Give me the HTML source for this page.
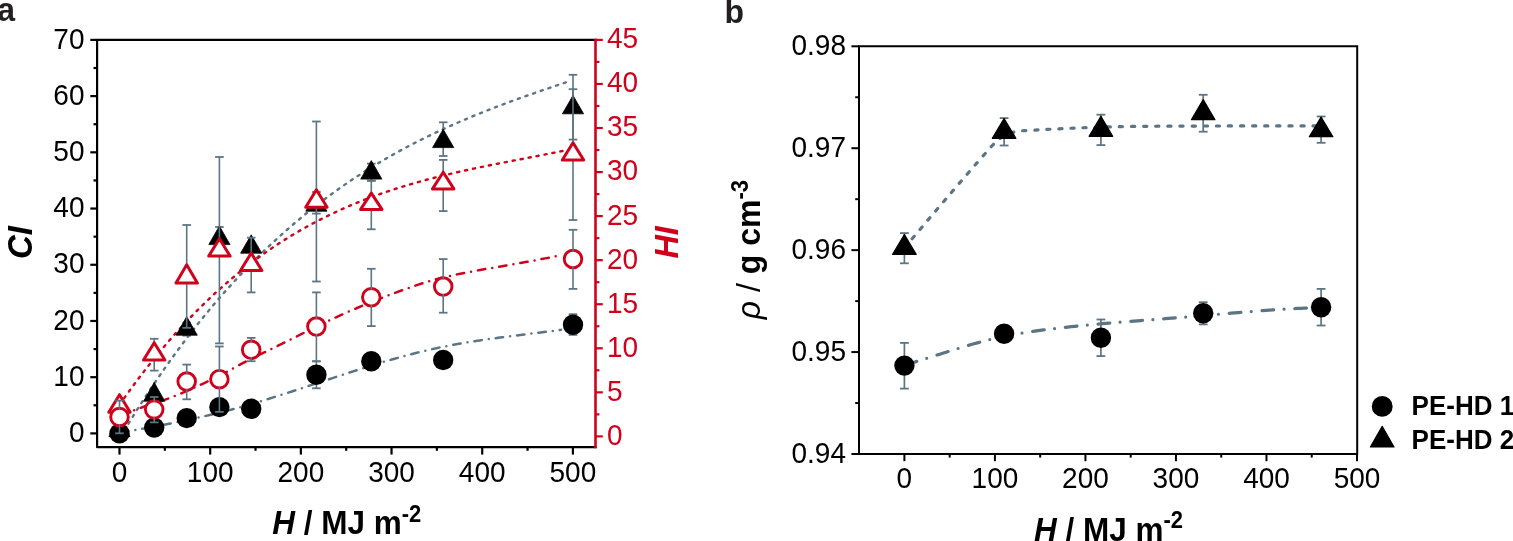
<!DOCTYPE html>
<html><head><meta charset="utf-8"><title>Figure</title>
<style>
html,body{margin:0;padding:0;background:#fff;}
body{width:1513px;height:541px;overflow:hidden;}
svg{display:block;font-family:'Liberation Sans', Arial, sans-serif;}
</style></head><body>
<svg width="1513" height="541" viewBox="0 0 1513 541">
<rect width="1513" height="541" fill="#fff"/>
<path d="M120.00,437.51 L123.77,431.24 L127.54,425.04 L131.31,418.94 L135.08,412.91 L138.84,406.97 L142.61,401.10 L146.38,395.32 L150.15,389.62 L153.92,383.99 L157.69,378.44 L161.46,372.97 L165.23,367.58 L169.00,362.26 L172.76,357.02 L176.53,351.85 L180.30,346.76 L184.07,341.73 L187.84,336.78 L191.61,331.90 L195.38,327.10 L199.15,322.36 L202.92,317.68 L206.68,313.08 L210.45,308.55 L214.22,304.08 L217.99,299.68 L221.76,295.34 L225.53,291.06 L229.30,286.85 L233.07,282.71 L236.84,278.62 L240.61,274.60 L244.37,270.63 L248.14,266.73 L251.91,262.88 L255.68,259.09 L259.45,255.37 L263.22,251.69 L266.99,248.07 L270.76,244.51 L274.53,241.01 L278.29,237.55 L282.06,234.15 L285.83,230.80 L289.60,227.50 L293.37,224.26 L297.14,221.06 L300.91,217.91 L304.68,214.81 L308.45,211.76 L312.21,208.76 L315.98,205.80 L319.75,202.89 L323.52,200.03 L327.29,197.21 L331.06,194.44 L334.83,191.70 L338.60,189.02 L342.37,186.37 L346.13,183.77 L349.90,181.21 L353.67,178.68 L357.44,176.20 L361.21,173.76 L364.98,171.36 L368.75,168.99 L372.52,166.66 L376.29,164.37 L380.05,162.12 L383.82,159.90 L387.59,157.71 L391.36,155.56 L395.13,153.45 L398.90,151.36 L402.67,149.31 L406.44,147.29 L410.21,145.30 L413.97,143.35 L417.74,141.42 L421.51,139.52 L425.28,137.65 L429.05,135.81 L432.82,133.99 L436.59,132.20 L440.36,130.44 L444.13,128.70 L447.89,126.99 L451.66,125.30 L455.43,123.64 L459.20,122.00 L462.97,120.38 L466.74,118.78 L470.51,117.21 L474.28,115.65 L478.05,114.11 L481.82,112.60 L485.58,111.10 L489.35,109.62 L493.12,108.15 L496.89,106.71 L500.66,105.28 L504.43,103.86 L508.20,102.46 L511.97,101.07 L515.74,99.70 L519.50,98.34 L523.27,96.99 L527.04,95.65 L530.81,94.33 L534.58,93.01 L538.35,91.70 L542.12,90.41 L545.89,89.12 L549.66,87.84 L553.42,86.56 L557.19,85.29 L560.96,84.03 L564.73,82.78 L568.50,81.52" fill="none" stroke="#5b7585" stroke-width="2.4" stroke-dasharray="2.2 5.9" stroke-linecap="round"/>
<path d="M119.50,404.79 L123.23,399.48 L126.95,394.25 L130.68,389.11 L134.41,384.05 L138.13,379.07 L141.86,374.17 L145.59,369.35 L149.32,364.62 L153.04,359.96 L156.77,355.38 L160.50,350.87 L164.22,346.45 L167.95,342.10 L171.68,337.82 L175.40,333.62 L179.13,329.49 L182.86,325.44 L186.58,321.45 L190.31,317.54 L194.04,313.70 L197.76,309.92 L201.49,306.22 L205.22,302.58 L208.95,299.02 L212.67,295.51 L216.40,292.08 L220.13,288.70 L223.85,285.40 L227.58,282.15 L231.31,278.97 L235.03,275.85 L238.76,272.79 L242.49,269.79 L246.21,266.85 L249.94,263.97 L253.67,261.15 L257.39,258.38 L261.12,255.67 L264.85,253.01 L268.58,250.41 L272.30,247.87 L276.03,245.37 L279.76,242.93 L283.48,240.54 L287.21,238.20 L290.94,235.91 L294.66,233.67 L298.39,231.48 L302.12,229.34 L305.84,227.24 L309.57,225.19 L313.30,223.19 L317.03,221.23 L320.75,219.31 L324.48,217.43 L328.21,215.60 L331.93,213.81 L335.66,212.06 L339.39,210.35 L343.11,208.68 L346.84,207.04 L350.57,205.45 L354.29,203.89 L358.02,202.36 L361.75,200.88 L365.47,199.42 L369.20,198.00 L372.93,196.61 L376.66,195.26 L380.38,193.93 L384.11,192.64 L387.84,191.37 L391.56,190.14 L395.29,188.93 L399.02,187.75 L402.74,186.59 L406.47,185.47 L410.20,184.36 L413.92,183.28 L417.65,182.23 L421.38,181.19 L425.11,180.18 L428.83,179.19 L432.56,178.22 L436.29,177.27 L440.01,176.34 L443.74,175.42 L447.47,174.52 L451.19,173.64 L454.92,172.78 L458.65,171.93 L462.37,171.09 L466.10,170.26 L469.83,169.45 L473.55,168.65 L477.28,167.86 L481.01,167.08 L484.74,166.31 L488.46,165.55 L492.19,164.80 L495.92,164.05 L499.64,163.31 L503.37,162.58 L507.10,161.84 L510.82,161.12 L514.55,160.39 L518.28,159.67 L522.00,158.95 L525.73,158.23 L529.46,157.51 L533.18,156.79 L536.91,156.07 L540.64,155.34 L544.37,154.61 L548.09,153.88 L551.82,153.14 L555.55,152.40 L559.27,151.65 L563.00,150.89" fill="none" stroke="#d0021b" stroke-width="2.4" stroke-dasharray="2.2 5.9" stroke-linecap="round"/>
<path d="M121.00,416.35 L124.69,414.44 L128.38,412.70 L132.07,411.10 L135.76,409.62 L139.45,408.25 L143.13,406.95 L146.82,405.71 L150.51,404.51 L154.20,403.32 L157.89,402.12 L161.58,400.89 L165.27,399.61 L168.96,398.27 L172.65,396.86 L176.34,395.40 L180.03,393.88 L183.71,392.32 L187.40,390.72 L191.09,389.08 L194.78,387.42 L198.47,385.73 L202.16,384.02 L205.85,382.29 L209.54,380.54 L213.23,378.75 L216.92,376.93 L220.61,375.06 L224.29,373.14 L227.98,371.17 L231.67,369.14 L235.36,367.09 L239.05,365.06 L242.74,363.10 L246.43,361.20 L250.12,359.34 L253.81,357.52 L257.50,355.73 L261.18,353.95 L264.87,352.18 L268.56,350.40 L272.25,348.61 L275.94,346.80 L279.63,344.97 L283.32,343.14 L287.01,341.30 L290.70,339.45 L294.39,337.60 L298.08,335.75 L301.76,333.90 L305.45,332.05 L309.14,330.22 L312.83,328.39 L316.52,326.58 L320.21,324.79 L323.90,323.01 L327.59,321.25 L331.28,319.52 L334.97,317.80 L338.66,316.12 L342.34,314.45 L346.03,312.81 L349.72,311.18 L353.41,309.58 L357.10,308.00 L360.79,306.44 L364.48,304.90 L368.17,303.38 L371.86,301.88 L375.55,300.40 L379.24,298.94 L382.92,297.49 L386.61,296.07 L390.30,294.66 L393.99,293.27 L397.68,291.89 L401.37,290.53 L405.06,289.19 L408.75,287.88 L412.44,286.59 L416.13,285.33 L419.82,284.11 L423.50,282.93 L427.19,281.80 L430.88,280.71 L434.57,279.68 L438.26,278.70 L441.95,277.77 L445.64,276.87 L449.33,276.02 L453.02,275.21 L456.71,274.42 L460.39,273.67 L464.08,272.94 L467.77,272.24 L471.46,271.55 L475.15,270.88 L478.84,270.23 L482.53,269.58 L486.22,268.95 L489.91,268.31 L493.60,267.67 L497.29,267.04 L500.97,266.40 L504.66,265.76 L508.35,265.12 L512.04,264.48 L515.73,263.83 L519.42,263.17 L523.11,262.51 L526.80,261.84 L530.49,261.16 L534.18,260.48 L537.87,259.78 L541.55,259.08 L545.24,258.37 L548.93,257.64 L552.62,256.90 L556.31,256.14 L560.00,255.38" fill="none" stroke="#d0021b" stroke-width="2.5" stroke-dasharray="7.5 7 0 7" stroke-linecap="round"/>
<path d="M121.00,432.41 L124.70,431.80 L128.39,431.18 L132.09,430.55 L135.79,429.92 L139.49,429.28 L143.18,428.63 L146.88,427.97 L150.58,427.30 L154.28,426.62 L157.97,425.93 L161.67,425.24 L165.37,424.53 L169.07,423.81 L172.76,423.07 L176.46,422.33 L180.16,421.57 L183.86,420.80 L187.55,420.02 L191.25,419.22 L194.95,418.41 L198.65,417.59 L202.34,416.74 L206.04,415.89 L209.74,415.02 L213.44,414.13 L217.13,413.22 L220.83,412.30 L224.53,411.36 L228.23,410.40 L231.92,409.42 L235.62,408.43 L239.32,407.41 L243.02,406.38 L246.71,405.33 L250.41,404.26 L254.11,403.18 L257.81,402.08 L261.50,400.97 L265.20,399.85 L268.90,398.71 L272.60,397.57 L276.29,396.41 L279.99,395.24 L283.69,394.07 L287.39,392.88 L291.08,391.69 L294.78,390.49 L298.48,389.29 L302.18,388.08 L305.87,386.86 L309.57,385.65 L313.27,384.43 L316.97,383.21 L320.66,381.99 L324.36,380.77 L328.06,379.55 L331.76,378.33 L335.45,377.12 L339.15,375.91 L342.85,374.70 L346.55,373.50 L350.24,372.30 L353.94,371.11 L357.64,369.93 L361.34,368.76 L365.03,367.59 L368.73,366.44 L372.43,365.30 L376.13,364.17 L379.82,363.05 L383.52,361.95 L387.22,360.86 L390.92,359.79 L394.61,358.73 L398.31,357.69 L402.01,356.67 L405.71,355.67 L409.40,354.69 L413.10,353.72 L416.80,352.78 L420.50,351.87 L424.19,350.97 L427.89,350.10 L431.59,349.26 L435.29,348.44 L438.98,347.65 L442.68,346.88 L446.38,346.14 L450.08,345.43 L453.77,344.73 L457.47,344.06 L461.17,343.41 L464.87,342.78 L468.56,342.17 L472.26,341.57 L475.96,341.00 L479.66,340.43 L483.35,339.89 L487.05,339.35 L490.75,338.83 L494.45,338.32 L498.14,337.82 L501.84,337.33 L505.54,336.84 L509.24,336.37 L512.93,335.90 L516.63,335.44 L520.33,334.98 L524.03,334.52 L527.72,334.06 L531.42,333.61 L535.12,333.15 L538.82,332.70 L542.51,332.24 L546.21,331.78 L549.91,331.31 L553.61,330.84 L557.30,330.36 L561.00,329.88" fill="none" stroke="#5b7585" stroke-width="2.5" stroke-dasharray="7.5 7 0 7" stroke-linecap="round"/>
<line x1="186.7" y1="322.6" x2="186.7" y2="335.6" stroke="#5b7585" stroke-width="1.6"/><line x1="182.39999999999998" y1="322.6" x2="191.0" y2="322.6" stroke="#5b7585" stroke-width="1.8"/><line x1="182.39999999999998" y1="335.6" x2="191.0" y2="335.6" stroke="#5b7585" stroke-width="1.8"/>
<line x1="219.4" y1="227.0" x2="219.4" y2="248.6" stroke="#5b7585" stroke-width="1.6"/><line x1="215.1" y1="227.0" x2="223.70000000000002" y2="227.0" stroke="#5b7585" stroke-width="1.8"/><line x1="215.1" y1="248.6" x2="223.70000000000002" y2="248.6" stroke="#5b7585" stroke-width="1.8"/>
<line x1="316.4" y1="121.5" x2="316.4" y2="281.5" stroke="#5b7585" stroke-width="1.6"/><line x1="312.09999999999997" y1="121.5" x2="320.7" y2="121.5" stroke="#5b7585" stroke-width="1.8"/><line x1="312.09999999999997" y1="281.5" x2="320.7" y2="281.5" stroke="#5b7585" stroke-width="1.8"/>
<line x1="371.3" y1="163.6" x2="371.3" y2="180.6" stroke="#5b7585" stroke-width="1.6"/><line x1="367.0" y1="163.6" x2="375.6" y2="163.6" stroke="#5b7585" stroke-width="1.8"/><line x1="367.0" y1="180.6" x2="375.6" y2="180.6" stroke="#5b7585" stroke-width="1.8"/>
<line x1="443.2" y1="122.3" x2="443.2" y2="156.0" stroke="#5b7585" stroke-width="1.6"/><line x1="438.9" y1="122.3" x2="447.5" y2="122.3" stroke="#5b7585" stroke-width="1.8"/><line x1="438.9" y1="156.0" x2="447.5" y2="156.0" stroke="#5b7585" stroke-width="1.8"/>
<line x1="573.0" y1="74.8" x2="573.0" y2="139.6" stroke="#5b7585" stroke-width="1.6"/><line x1="568.7" y1="74.8" x2="577.3" y2="74.8" stroke="#5b7585" stroke-width="1.8"/><line x1="568.7" y1="139.6" x2="577.3" y2="139.6" stroke="#5b7585" stroke-width="1.8"/>
<path d="M119.50,417.90 L130.10,436.40 L108.90,436.40 Z" fill="#000" stroke="#000" stroke-width="0.8" stroke-linejoin="round"/>
<path d="M154.20,382.40 L164.80,401.20 L143.60,401.20 Z" fill="#000" stroke="#000" stroke-width="0.8" stroke-linejoin="round"/>
<path d="M186.70,316.60 L197.30,335.20 L176.10,335.20 Z" fill="#000" stroke="#000" stroke-width="0.8" stroke-linejoin="round"/>
<path d="M219.40,226.00 L230.00,244.60 L208.80,244.60 Z" fill="#000" stroke="#000" stroke-width="0.8" stroke-linejoin="round"/>
<path d="M251.20,234.80 L261.80,253.20 L240.60,253.20 Z" fill="#000" stroke="#000" stroke-width="0.8" stroke-linejoin="round"/>
<path d="M316.40,192.60 L327.00,211.20 L305.80,211.20 Z" fill="#000" stroke="#000" stroke-width="0.8" stroke-linejoin="round"/>
<path d="M371.30,160.60 L381.90,179.10 L360.70,179.10 Z" fill="#000" stroke="#000" stroke-width="0.8" stroke-linejoin="round"/>
<path d="M443.20,129.20 L453.80,147.60 L432.60,147.60 Z" fill="#000" stroke="#000" stroke-width="0.8" stroke-linejoin="round"/>
<path d="M573.00,95.40 L583.60,113.80 L562.40,113.80 Z" fill="#000" stroke="#000" stroke-width="0.8" stroke-linejoin="round"/>
<line x1="316.4" y1="361.3" x2="316.4" y2="388.3" stroke="#5b7585" stroke-width="1.6"/><line x1="312.09999999999997" y1="361.3" x2="320.7" y2="361.3" stroke="#5b7585" stroke-width="1.8"/><line x1="312.09999999999997" y1="388.3" x2="320.7" y2="388.3" stroke="#5b7585" stroke-width="1.8"/>
<line x1="573.0" y1="314.2" x2="573.0" y2="334.9" stroke="#5b7585" stroke-width="1.6"/><line x1="568.7" y1="314.2" x2="577.3" y2="314.2" stroke="#5b7585" stroke-width="1.8"/><line x1="568.7" y1="334.9" x2="577.3" y2="334.9" stroke="#5b7585" stroke-width="1.8"/>
<circle cx="119.5" cy="433.4" r="10.2" fill="#000"/>
<circle cx="154.2" cy="427.6" r="10.2" fill="#000"/>
<circle cx="186.7" cy="418.1" r="10.2" fill="#000"/>
<circle cx="219.4" cy="407.1" r="10.2" fill="#000"/>
<circle cx="251.2" cy="408.8" r="10.2" fill="#000"/>
<circle cx="316.4" cy="374.8" r="10.2" fill="#000"/>
<circle cx="371.3" cy="361.3" r="10.2" fill="#000"/>
<circle cx="443.2" cy="360.0" r="10.2" fill="#000"/>
<circle cx="573.0" cy="324.7" r="10.2" fill="#000"/>
<line x1="154.2" y1="338.8" x2="154.2" y2="370.6" stroke="#5b7585" stroke-width="1.6"/><line x1="149.89999999999998" y1="338.8" x2="158.5" y2="338.8" stroke="#5b7585" stroke-width="1.8"/><line x1="149.89999999999998" y1="370.6" x2="158.5" y2="370.6" stroke="#5b7585" stroke-width="1.8"/>
<line x1="186.7" y1="225.0" x2="186.7" y2="327.8" stroke="#5b7585" stroke-width="1.6"/><line x1="182.39999999999998" y1="225.0" x2="191.0" y2="225.0" stroke="#5b7585" stroke-width="1.8"/><line x1="182.39999999999998" y1="327.8" x2="191.0" y2="327.8" stroke="#5b7585" stroke-width="1.8"/>
<line x1="219.4" y1="157.0" x2="219.4" y2="343.4" stroke="#5b7585" stroke-width="1.6"/><line x1="215.1" y1="157.0" x2="223.70000000000002" y2="157.0" stroke="#5b7585" stroke-width="1.8"/><line x1="215.1" y1="343.4" x2="223.70000000000002" y2="343.4" stroke="#5b7585" stroke-width="1.8"/>
<line x1="251.2" y1="237.7" x2="251.2" y2="292.4" stroke="#5b7585" stroke-width="1.6"/><line x1="246.89999999999998" y1="237.7" x2="255.5" y2="237.7" stroke="#5b7585" stroke-width="1.8"/><line x1="246.89999999999998" y1="292.4" x2="255.5" y2="292.4" stroke="#5b7585" stroke-width="1.8"/>
<line x1="316.4" y1="192.0" x2="316.4" y2="213.6" stroke="#5b7585" stroke-width="1.6"/><line x1="312.09999999999997" y1="192.0" x2="320.7" y2="192.0" stroke="#5b7585" stroke-width="1.8"/><line x1="312.09999999999997" y1="213.6" x2="320.7" y2="213.6" stroke="#5b7585" stroke-width="1.8"/>
<line x1="371.3" y1="180.8" x2="371.3" y2="229.3" stroke="#5b7585" stroke-width="1.6"/><line x1="367.0" y1="180.8" x2="375.6" y2="180.8" stroke="#5b7585" stroke-width="1.8"/><line x1="367.0" y1="229.3" x2="375.6" y2="229.3" stroke="#5b7585" stroke-width="1.8"/>
<line x1="443.2" y1="159.9" x2="443.2" y2="211.1" stroke="#5b7585" stroke-width="1.6"/><line x1="438.9" y1="159.9" x2="447.5" y2="159.9" stroke="#5b7585" stroke-width="1.8"/><line x1="438.9" y1="211.1" x2="447.5" y2="211.1" stroke="#5b7585" stroke-width="1.8"/>
<line x1="573.0" y1="89.2" x2="573.0" y2="220.0" stroke="#5b7585" stroke-width="1.6"/><line x1="568.7" y1="89.2" x2="577.3" y2="89.2" stroke="#5b7585" stroke-width="1.8"/><line x1="568.7" y1="220.0" x2="577.3" y2="220.0" stroke="#5b7585" stroke-width="1.8"/>
<path d="M119.50,394.70 L130.20,412.30 L108.80,412.30 Z" fill="#fff" stroke="#d0021b" stroke-width="3.0" stroke-linejoin="round"/>
<path d="M154.20,342.70 L164.90,360.00 L143.50,360.00 Z" fill="#fff" stroke="#d0021b" stroke-width="3.0" stroke-linejoin="round"/>
<path d="M186.70,264.80 L197.40,283.10 L176.00,283.10 Z" fill="#fff" stroke="#d0021b" stroke-width="3.0" stroke-linejoin="round"/>
<path d="M219.40,238.70 L230.10,256.10 L208.70,256.10 Z" fill="#fff" stroke="#d0021b" stroke-width="3.0" stroke-linejoin="round"/>
<path d="M251.20,253.10 L261.90,270.50 L240.50,270.50 Z" fill="#fff" stroke="#d0021b" stroke-width="3.0" stroke-linejoin="round"/>
<path d="M316.40,189.80 L327.10,207.20 L305.70,207.20 Z" fill="#fff" stroke="#d0021b" stroke-width="3.0" stroke-linejoin="round"/>
<path d="M371.30,193.10 L382.00,209.40 L360.60,209.40 Z" fill="#fff" stroke="#d0021b" stroke-width="3.0" stroke-linejoin="round"/>
<path d="M443.20,172.20 L453.90,188.90 L432.50,188.90 Z" fill="#fff" stroke="#d0021b" stroke-width="3.0" stroke-linejoin="round"/>
<path d="M573.00,142.80 L583.70,160.00 L562.30,160.00 Z" fill="#fff" stroke="#d0021b" stroke-width="3.0" stroke-linejoin="round"/>
<circle cx="119.5" cy="417.0" r="8.8" fill="#fff" stroke="#d0021b" stroke-width="2.9"/>
<circle cx="154.2" cy="409.5" r="8.8" fill="#fff" stroke="#d0021b" stroke-width="2.9"/>
<circle cx="186.7" cy="381.6" r="8.8" fill="#fff" stroke="#d0021b" stroke-width="2.9"/>
<circle cx="219.4" cy="379.2" r="8.8" fill="#fff" stroke="#d0021b" stroke-width="2.9"/>
<circle cx="251.2" cy="349.8" r="8.8" fill="#fff" stroke="#d0021b" stroke-width="2.9"/>
<circle cx="316.4" cy="326.6" r="8.8" fill="#fff" stroke="#d0021b" stroke-width="2.9"/>
<circle cx="371.3" cy="297.3" r="8.8" fill="#fff" stroke="#d0021b" stroke-width="2.9"/>
<circle cx="443.2" cy="286.6" r="8.8" fill="#fff" stroke="#d0021b" stroke-width="2.9"/>
<circle cx="573.0" cy="259.1" r="8.8" fill="#fff" stroke="#d0021b" stroke-width="2.9"/>
<line x1="119.5" y1="400.6" x2="119.5" y2="409.8" stroke="#5b7585" stroke-width="1.6"/>
<line x1="119.5" y1="424.2" x2="119.5" y2="433.3" stroke="#5b7585" stroke-width="1.6"/>
<line x1="115.2" y1="400.6" x2="123.8" y2="400.6" stroke="#5b7585" stroke-width="1.8"/>
<line x1="115.2" y1="433.3" x2="123.8" y2="433.3" stroke="#5b7585" stroke-width="1.8"/>
<line x1="154.2" y1="397.0" x2="154.2" y2="402.3" stroke="#5b7585" stroke-width="1.6"/>
<line x1="154.2" y1="416.7" x2="154.2" y2="422.4" stroke="#5b7585" stroke-width="1.6"/>
<line x1="149.89999999999998" y1="397.0" x2="158.5" y2="397.0" stroke="#5b7585" stroke-width="1.8"/>
<line x1="149.89999999999998" y1="422.4" x2="158.5" y2="422.4" stroke="#5b7585" stroke-width="1.8"/>
<line x1="186.7" y1="364.6" x2="186.7" y2="374.40000000000003" stroke="#5b7585" stroke-width="1.6"/>
<line x1="186.7" y1="388.8" x2="186.7" y2="399.3" stroke="#5b7585" stroke-width="1.6"/>
<line x1="182.39999999999998" y1="364.6" x2="191.0" y2="364.6" stroke="#5b7585" stroke-width="1.8"/>
<line x1="182.39999999999998" y1="399.3" x2="191.0" y2="399.3" stroke="#5b7585" stroke-width="1.8"/>
<line x1="219.4" y1="346.5" x2="219.4" y2="372.0" stroke="#5b7585" stroke-width="1.6"/>
<line x1="219.4" y1="386.4" x2="219.4" y2="411.9" stroke="#5b7585" stroke-width="1.6"/>
<line x1="215.1" y1="346.5" x2="223.70000000000002" y2="346.5" stroke="#5b7585" stroke-width="1.8"/>
<line x1="215.1" y1="411.9" x2="223.70000000000002" y2="411.9" stroke="#5b7585" stroke-width="1.8"/>
<line x1="251.2" y1="337.9" x2="251.2" y2="342.6" stroke="#5b7585" stroke-width="1.6"/>
<line x1="251.2" y1="357.0" x2="251.2" y2="361.2" stroke="#5b7585" stroke-width="1.6"/>
<line x1="246.89999999999998" y1="337.9" x2="255.5" y2="337.9" stroke="#5b7585" stroke-width="1.8"/>
<line x1="246.89999999999998" y1="361.2" x2="255.5" y2="361.2" stroke="#5b7585" stroke-width="1.8"/>
<line x1="316.4" y1="292.4" x2="316.4" y2="319.40000000000003" stroke="#5b7585" stroke-width="1.6"/>
<line x1="316.4" y1="333.8" x2="316.4" y2="361.3" stroke="#5b7585" stroke-width="1.6"/>
<line x1="312.09999999999997" y1="292.4" x2="320.7" y2="292.4" stroke="#5b7585" stroke-width="1.8"/>
<line x1="312.09999999999997" y1="361.3" x2="320.7" y2="361.3" stroke="#5b7585" stroke-width="1.8"/>
<line x1="371.3" y1="268.8" x2="371.3" y2="290.1" stroke="#5b7585" stroke-width="1.6"/>
<line x1="371.3" y1="304.5" x2="371.3" y2="326.1" stroke="#5b7585" stroke-width="1.6"/>
<line x1="367.0" y1="268.8" x2="375.6" y2="268.8" stroke="#5b7585" stroke-width="1.8"/>
<line x1="367.0" y1="326.1" x2="375.6" y2="326.1" stroke="#5b7585" stroke-width="1.8"/>
<line x1="443.2" y1="259.1" x2="443.2" y2="279.40000000000003" stroke="#5b7585" stroke-width="1.6"/>
<line x1="443.2" y1="293.8" x2="443.2" y2="312.7" stroke="#5b7585" stroke-width="1.6"/>
<line x1="438.9" y1="259.1" x2="447.5" y2="259.1" stroke="#5b7585" stroke-width="1.8"/>
<line x1="438.9" y1="312.7" x2="447.5" y2="312.7" stroke="#5b7585" stroke-width="1.8"/>
<line x1="573.0" y1="229.8" x2="573.0" y2="251.90000000000003" stroke="#5b7585" stroke-width="1.6"/>
<line x1="573.0" y1="266.3" x2="573.0" y2="288.9" stroke="#5b7585" stroke-width="1.6"/>
<line x1="568.7" y1="229.8" x2="577.3" y2="229.8" stroke="#5b7585" stroke-width="1.8"/>
<line x1="568.7" y1="288.9" x2="577.3" y2="288.9" stroke="#5b7585" stroke-width="1.8"/>
<path d="M595.5,39.9 L97.1,39.9 L97.1,447.2 L595.5,447.2" fill="none" stroke="#000" stroke-width="2.2" stroke-linejoin="round" stroke-linecap="square"/>
<line x1="595.5" y1="38.8" x2="595.5" y2="448.3" stroke="#d0021b" stroke-width="2.6"/>
<line x1="90.3" y1="433.40" x2="97.1" y2="433.40" stroke="#000" stroke-width="2.2"/>
<text transform="translate(84.50,442.10) scale(1.0,1.035)" font-size="28" fill="#000" text-anchor="end">0</text>
<line x1="93.5" y1="405.29" x2="97.1" y2="405.29" stroke="#000" stroke-width="2.2"/>
<line x1="90.3" y1="377.19" x2="97.1" y2="377.19" stroke="#000" stroke-width="2.2"/>
<text transform="translate(84.50,385.89) scale(1.0,1.035)" font-size="28" fill="#000" text-anchor="end">10</text>
<line x1="93.5" y1="349.08" x2="97.1" y2="349.08" stroke="#000" stroke-width="2.2"/>
<line x1="90.3" y1="320.97" x2="97.1" y2="320.97" stroke="#000" stroke-width="2.2"/>
<text transform="translate(84.50,329.67) scale(1.0,1.035)" font-size="28" fill="#000" text-anchor="end">20</text>
<line x1="93.5" y1="292.87" x2="97.1" y2="292.87" stroke="#000" stroke-width="2.2"/>
<line x1="90.3" y1="264.76" x2="97.1" y2="264.76" stroke="#000" stroke-width="2.2"/>
<text transform="translate(84.50,273.46) scale(1.0,1.035)" font-size="28" fill="#000" text-anchor="end">30</text>
<line x1="93.5" y1="236.65" x2="97.1" y2="236.65" stroke="#000" stroke-width="2.2"/>
<line x1="90.3" y1="208.54" x2="97.1" y2="208.54" stroke="#000" stroke-width="2.2"/>
<text transform="translate(84.50,217.24) scale(1.0,1.035)" font-size="28" fill="#000" text-anchor="end">40</text>
<line x1="93.5" y1="180.44" x2="97.1" y2="180.44" stroke="#000" stroke-width="2.2"/>
<line x1="90.3" y1="152.33" x2="97.1" y2="152.33" stroke="#000" stroke-width="2.2"/>
<text transform="translate(84.50,161.03) scale(1.0,1.035)" font-size="28" fill="#000" text-anchor="end">50</text>
<line x1="93.5" y1="124.22" x2="97.1" y2="124.22" stroke="#000" stroke-width="2.2"/>
<line x1="90.3" y1="96.12" x2="97.1" y2="96.12" stroke="#000" stroke-width="2.2"/>
<text transform="translate(84.50,104.82) scale(1.0,1.035)" font-size="28" fill="#000" text-anchor="end">60</text>
<line x1="93.5" y1="68.01" x2="97.1" y2="68.01" stroke="#000" stroke-width="2.2"/>
<line x1="90.3" y1="39.90" x2="97.1" y2="39.90" stroke="#000" stroke-width="2.2"/>
<text transform="translate(84.50,48.60) scale(1.0,1.035)" font-size="28" fill="#000" text-anchor="end">70</text>
<line x1="595.5" y1="436.40" x2="602.8" y2="436.40" stroke="#d0021b" stroke-width="2.2"/>
<text transform="translate(606.90,444.80) scale(1.0,1.035)" font-size="28" fill="#d0021b">0</text>
<line x1="595.5" y1="414.37" x2="599.4" y2="414.37" stroke="#d0021b" stroke-width="2.2"/>
<line x1="595.5" y1="392.34" x2="602.8" y2="392.34" stroke="#d0021b" stroke-width="2.2"/>
<text transform="translate(606.90,400.74) scale(1.0,1.035)" font-size="28" fill="#d0021b">5</text>
<line x1="595.5" y1="370.32" x2="599.4" y2="370.32" stroke="#d0021b" stroke-width="2.2"/>
<line x1="595.5" y1="348.29" x2="602.8" y2="348.29" stroke="#d0021b" stroke-width="2.2"/>
<text transform="translate(606.90,356.69) scale(1.0,1.035)" font-size="28" fill="#d0021b">10</text>
<line x1="595.5" y1="326.26" x2="599.4" y2="326.26" stroke="#d0021b" stroke-width="2.2"/>
<line x1="595.5" y1="304.23" x2="602.8" y2="304.23" stroke="#d0021b" stroke-width="2.2"/>
<text transform="translate(606.90,312.63) scale(1.0,1.035)" font-size="28" fill="#d0021b">15</text>
<line x1="595.5" y1="282.21" x2="599.4" y2="282.21" stroke="#d0021b" stroke-width="2.2"/>
<line x1="595.5" y1="260.18" x2="602.8" y2="260.18" stroke="#d0021b" stroke-width="2.2"/>
<text transform="translate(606.90,268.58) scale(1.0,1.035)" font-size="28" fill="#d0021b">20</text>
<line x1="595.5" y1="238.15" x2="599.4" y2="238.15" stroke="#d0021b" stroke-width="2.2"/>
<line x1="595.5" y1="216.12" x2="602.8" y2="216.12" stroke="#d0021b" stroke-width="2.2"/>
<text transform="translate(606.90,224.52) scale(1.0,1.035)" font-size="28" fill="#d0021b">25</text>
<line x1="595.5" y1="194.09" x2="599.4" y2="194.09" stroke="#d0021b" stroke-width="2.2"/>
<line x1="595.5" y1="172.07" x2="602.8" y2="172.07" stroke="#d0021b" stroke-width="2.2"/>
<text transform="translate(606.90,180.47) scale(1.0,1.035)" font-size="28" fill="#d0021b">30</text>
<line x1="595.5" y1="150.04" x2="599.4" y2="150.04" stroke="#d0021b" stroke-width="2.2"/>
<line x1="595.5" y1="128.01" x2="602.8" y2="128.01" stroke="#d0021b" stroke-width="2.2"/>
<text transform="translate(606.90,136.41) scale(1.0,1.035)" font-size="28" fill="#d0021b">35</text>
<line x1="595.5" y1="105.98" x2="599.4" y2="105.98" stroke="#d0021b" stroke-width="2.2"/>
<line x1="595.5" y1="83.96" x2="602.8" y2="83.96" stroke="#d0021b" stroke-width="2.2"/>
<text transform="translate(606.90,92.36) scale(1.0,1.035)" font-size="28" fill="#d0021b">40</text>
<line x1="595.5" y1="61.93" x2="599.4" y2="61.93" stroke="#d0021b" stroke-width="2.2"/>
<line x1="595.5" y1="39.90" x2="602.8" y2="39.90" stroke="#d0021b" stroke-width="2.2"/>
<text transform="translate(606.90,48.30) scale(1.0,1.035)" font-size="28" fill="#d0021b">45</text>
<line x1="119.50" y1="447.2" x2="119.50" y2="454.59999999999997" stroke="#000" stroke-width="2.2"/>
<text transform="translate(119.50,481.60) scale(1.0,1.035)" font-size="28" fill="#000" text-anchor="middle">0</text>
<line x1="164.84" y1="447.2" x2="164.84" y2="450.8" stroke="#000" stroke-width="2.2"/>
<line x1="210.18" y1="447.2" x2="210.18" y2="454.59999999999997" stroke="#000" stroke-width="2.2"/>
<text transform="translate(210.18,481.60) scale(1.0,1.035)" font-size="28" fill="#000" text-anchor="middle">100</text>
<line x1="255.52" y1="447.2" x2="255.52" y2="450.8" stroke="#000" stroke-width="2.2"/>
<line x1="300.86" y1="447.2" x2="300.86" y2="454.59999999999997" stroke="#000" stroke-width="2.2"/>
<text transform="translate(300.86,481.60) scale(1.0,1.035)" font-size="28" fill="#000" text-anchor="middle">200</text>
<line x1="346.20" y1="447.2" x2="346.20" y2="450.8" stroke="#000" stroke-width="2.2"/>
<line x1="391.54" y1="447.2" x2="391.54" y2="454.59999999999997" stroke="#000" stroke-width="2.2"/>
<text transform="translate(391.54,481.60) scale(1.0,1.035)" font-size="28" fill="#000" text-anchor="middle">300</text>
<line x1="436.88" y1="447.2" x2="436.88" y2="450.8" stroke="#000" stroke-width="2.2"/>
<line x1="482.22" y1="447.2" x2="482.22" y2="454.59999999999997" stroke="#000" stroke-width="2.2"/>
<text transform="translate(482.22,481.60) scale(1.0,1.035)" font-size="28" fill="#000" text-anchor="middle">400</text>
<line x1="527.56" y1="447.2" x2="527.56" y2="450.8" stroke="#000" stroke-width="2.2"/>
<line x1="572.90" y1="447.2" x2="572.90" y2="454.59999999999997" stroke="#000" stroke-width="2.2"/>
<text transform="translate(572.90,481.60) scale(1.0,1.035)" font-size="28" fill="#000" text-anchor="middle">500</text>
<text transform="translate(272.20,534.30) scale(1.0,1.055)" font-size="31.5" fill="#000" font-weight="bold"><tspan font-style="italic">H</tspan> / MJ m<tspan font-size="22" dy="-12.0">-2</tspan></text>
<text transform="translate(32.40,259.00) rotate(-90) scale(1.0,1.05)" font-size="33" fill="#000" font-weight="bold" font-style="italic">CI</text>
<text transform="translate(677.90,258.60) rotate(-90) scale(1.0,1.04)" font-size="32.5" fill="#d0021b" font-weight="bold" font-style="italic">HI</text>
<text transform="translate(-2.80,20.50) scale(1.0,1.06)" font-size="32" fill="#231f20" font-weight="bold">a</text>
<path d="M904.3,248.1 C930,217.5 960,182 990,148 C1000,137 1008,131.5 1025,130.6 C1060,128.6 1090,127.2 1130,126.4 C1200,125.9 1260,125.9 1318,125.9" fill="none" stroke="#5b7585" stroke-width="3.2" stroke-dasharray="3.2 8.9" stroke-dashoffset="-0.35" stroke-linecap="round"/>
<path d="M904.40,365.11 L907.88,364.09 L911.35,363.04 L914.83,361.99 L918.30,360.93 L921.78,359.85 L925.25,358.77 L928.73,357.68 L932.21,356.59 L935.68,355.50 L939.16,354.41 L942.63,353.31 L946.11,352.22 L949.58,351.14 L953.06,350.06 L956.53,348.98 L960.01,347.92 L963.49,346.87 L966.96,345.83 L970.44,344.81 L973.91,343.81 L977.39,342.84 L980.86,341.89 L984.34,340.97 L987.82,340.08 L991.29,339.23 L994.77,338.42 L998.24,337.63 L1001.72,336.89 L1005.19,336.17 L1008.67,335.48 L1012.14,334.82 L1015.62,334.19 L1019.10,333.58 L1022.57,333.00 L1026.05,332.44 L1029.52,331.91 L1033.00,331.39 L1036.47,330.89 L1039.95,330.41 L1043.43,329.95 L1046.90,329.50 L1050.38,329.06 L1053.85,328.64 L1057.33,328.23 L1060.80,327.83 L1064.28,327.43 L1067.75,327.05 L1071.23,326.68 L1074.71,326.32 L1078.18,325.96 L1081.66,325.61 L1085.13,325.28 L1088.61,324.94 L1092.08,324.62 L1095.56,324.30 L1099.04,323.99 L1102.51,323.68 L1105.99,323.38 L1109.46,323.09 L1112.94,322.79 L1116.41,322.51 L1119.89,322.22 L1123.36,321.95 L1126.84,321.67 L1130.32,321.39 L1133.79,321.12 L1137.27,320.85 L1140.74,320.58 L1144.22,320.32 L1147.69,320.05 L1151.17,319.78 L1154.65,319.52 L1158.12,319.25 L1161.60,318.98 L1165.07,318.71 L1168.55,318.44 L1172.02,318.17 L1175.50,317.89 L1178.97,317.62 L1182.45,317.34 L1185.93,317.05 L1189.40,316.76 L1192.88,316.47 L1196.35,316.18 L1199.83,315.88 L1203.30,315.58 L1206.78,315.28 L1210.26,314.98 L1213.73,314.68 L1217.21,314.38 L1220.68,314.08 L1224.16,313.78 L1227.63,313.49 L1231.11,313.19 L1234.58,312.90 L1238.06,312.60 L1241.54,312.32 L1245.01,312.03 L1248.49,311.75 L1251.96,311.48 L1255.44,311.20 L1258.91,310.94 L1262.39,310.68 L1265.87,310.42 L1269.34,310.17 L1272.82,309.93 L1276.29,309.70 L1279.77,309.47 L1283.24,309.25 L1286.72,309.04 L1290.19,308.84 L1293.67,308.65 L1297.15,308.47 L1300.62,308.30 L1304.10,308.14 L1307.57,307.99 L1311.05,307.86 L1314.52,307.73 L1318.00,307.62" fill="none" stroke="#5b7585" stroke-width="3.2" stroke-dasharray="11.7 10.4 0 10.8" stroke-dashoffset="-1.2" stroke-linecap="round"/>
<line x1="904.4" y1="233.1" x2="904.4" y2="263.3" stroke="#5b7585" stroke-width="1.7"/><line x1="900.0" y1="233.1" x2="908.8" y2="233.1" stroke="#5b7585" stroke-width="1.8"/><line x1="900.0" y1="263.3" x2="908.8" y2="263.3" stroke="#5b7585" stroke-width="1.8"/>
<line x1="904.4" y1="342.9" x2="904.4" y2="388.6" stroke="#5b7585" stroke-width="1.7"/><line x1="900.0" y1="342.9" x2="908.8" y2="342.9" stroke="#5b7585" stroke-width="1.8"/><line x1="900.0" y1="388.6" x2="908.8" y2="388.6" stroke="#5b7585" stroke-width="1.8"/>
<line x1="1004.1" y1="118.1" x2="1004.1" y2="145.5" stroke="#5b7585" stroke-width="1.7"/><line x1="999.7" y1="118.1" x2="1008.5" y2="118.1" stroke="#5b7585" stroke-width="1.8"/><line x1="999.7" y1="145.5" x2="1008.5" y2="145.5" stroke="#5b7585" stroke-width="1.8"/>
<line x1="1100.9" y1="114.7" x2="1100.9" y2="145.1" stroke="#5b7585" stroke-width="1.7"/><line x1="1096.5" y1="114.7" x2="1105.3000000000002" y2="114.7" stroke="#5b7585" stroke-width="1.8"/><line x1="1096.5" y1="145.1" x2="1105.3000000000002" y2="145.1" stroke="#5b7585" stroke-width="1.8"/>
<line x1="1100.9" y1="319.5" x2="1100.9" y2="356.1" stroke="#5b7585" stroke-width="1.7"/><line x1="1096.5" y1="319.5" x2="1105.3000000000002" y2="319.5" stroke="#5b7585" stroke-width="1.8"/><line x1="1096.5" y1="356.1" x2="1105.3000000000002" y2="356.1" stroke="#5b7585" stroke-width="1.8"/>
<line x1="1203.2" y1="94.8" x2="1203.2" y2="131.7" stroke="#5b7585" stroke-width="1.7"/><line x1="1198.8" y1="94.8" x2="1207.6000000000001" y2="94.8" stroke="#5b7585" stroke-width="1.8"/><line x1="1198.8" y1="131.7" x2="1207.6000000000001" y2="131.7" stroke="#5b7585" stroke-width="1.8"/>
<line x1="1203.2" y1="302.2" x2="1203.2" y2="324.4" stroke="#5b7585" stroke-width="1.7"/><line x1="1198.8" y1="302.2" x2="1207.6000000000001" y2="302.2" stroke="#5b7585" stroke-width="1.8"/><line x1="1198.8" y1="324.4" x2="1207.6000000000001" y2="324.4" stroke="#5b7585" stroke-width="1.8"/>
<line x1="1321.1" y1="116.5" x2="1321.1" y2="142.8" stroke="#5b7585" stroke-width="1.7"/><line x1="1316.6999999999998" y1="116.5" x2="1325.5" y2="116.5" stroke="#5b7585" stroke-width="1.8"/><line x1="1316.6999999999998" y1="142.8" x2="1325.5" y2="142.8" stroke="#5b7585" stroke-width="1.8"/>
<line x1="1321.1" y1="288.9" x2="1321.1" y2="325.5" stroke="#5b7585" stroke-width="1.7"/><line x1="1316.6999999999998" y1="288.9" x2="1325.5" y2="288.9" stroke="#5b7585" stroke-width="1.8"/><line x1="1316.6999999999998" y1="325.5" x2="1325.5" y2="325.5" stroke="#5b7585" stroke-width="1.8"/>
<path d="M904.40,234.50 L916.20,254.40 L892.60,254.40 Z" fill="#000" stroke="#000" stroke-width="1.2" stroke-linejoin="round"/>
<circle cx="904.4" cy="365.6" r="10.2" fill="#000"/>
<path d="M1004.10,118.60 L1015.90,138.30 L992.30,138.30 Z" fill="#000" stroke="#000" stroke-width="1.2" stroke-linejoin="round"/>
<circle cx="1004.1" cy="333.7" r="10.2" fill="#000"/>
<path d="M1100.90,116.20 L1112.70,136.30 L1089.10,136.30 Z" fill="#000" stroke="#000" stroke-width="1.2" stroke-linejoin="round"/>
<circle cx="1100.9" cy="337.8" r="10.2" fill="#000"/>
<path d="M1203.20,99.60 L1215.00,119.70 L1191.40,119.70 Z" fill="#000" stroke="#000" stroke-width="1.2" stroke-linejoin="round"/>
<circle cx="1203.2" cy="313.3" r="10.2" fill="#000"/>
<path d="M1321.10,117.10 L1332.90,136.70 L1309.30,136.70 Z" fill="#000" stroke="#000" stroke-width="1.2" stroke-linejoin="round"/>
<circle cx="1321.1" cy="307.2" r="10.2" fill="#000"/>
<path d="M1357.2,46.3 L859.0,46.3 L859.0,454.0 L1357.2,454.0 Z" fill="none" stroke="#000" stroke-width="2.0" stroke-linecap="square"/>
<line x1="851.4" y1="454.00" x2="859.0" y2="454.00" stroke="#000" stroke-width="2.0"/>
<text transform="translate(846.00,462.70) scale(1.0,1.035)" font-size="28" fill="#000" text-anchor="end">0.94</text>
<line x1="855.2" y1="403.04" x2="859.0" y2="403.04" stroke="#000" stroke-width="2.0"/>
<line x1="851.4" y1="352.07" x2="859.0" y2="352.07" stroke="#000" stroke-width="2.0"/>
<text transform="translate(846.00,360.77) scale(1.0,1.035)" font-size="28" fill="#000" text-anchor="end">0.95</text>
<line x1="855.2" y1="301.11" x2="859.0" y2="301.11" stroke="#000" stroke-width="2.0"/>
<line x1="851.4" y1="250.15" x2="859.0" y2="250.15" stroke="#000" stroke-width="2.0"/>
<text transform="translate(846.00,258.85) scale(1.0,1.035)" font-size="28" fill="#000" text-anchor="end">0.96</text>
<line x1="855.2" y1="199.19" x2="859.0" y2="199.19" stroke="#000" stroke-width="2.0"/>
<line x1="851.4" y1="148.22" x2="859.0" y2="148.22" stroke="#000" stroke-width="2.0"/>
<text transform="translate(846.00,156.92) scale(1.0,1.035)" font-size="28" fill="#000" text-anchor="end">0.97</text>
<line x1="855.2" y1="97.26" x2="859.0" y2="97.26" stroke="#000" stroke-width="2.0"/>
<line x1="851.4" y1="46.30" x2="859.0" y2="46.30" stroke="#000" stroke-width="2.0"/>
<text transform="translate(846.00,55.00) scale(1.0,1.035)" font-size="28" fill="#000" text-anchor="end">0.98</text>
<line x1="904.40" y1="454.0" x2="904.40" y2="461.2" stroke="#000" stroke-width="2.0"/>
<text transform="translate(904.40,487.90) scale(1.0,1.035)" font-size="28" fill="#000" text-anchor="middle">0</text>
<line x1="949.66" y1="454.0" x2="949.66" y2="457.6" stroke="#000" stroke-width="2.0"/>
<line x1="994.92" y1="454.0" x2="994.92" y2="461.2" stroke="#000" stroke-width="2.0"/>
<text transform="translate(994.92,487.90) scale(1.0,1.035)" font-size="28" fill="#000" text-anchor="middle">100</text>
<line x1="1040.18" y1="454.0" x2="1040.18" y2="457.6" stroke="#000" stroke-width="2.0"/>
<line x1="1085.44" y1="454.0" x2="1085.44" y2="461.2" stroke="#000" stroke-width="2.0"/>
<text transform="translate(1085.44,487.90) scale(1.0,1.035)" font-size="28" fill="#000" text-anchor="middle">200</text>
<line x1="1130.70" y1="454.0" x2="1130.70" y2="457.6" stroke="#000" stroke-width="2.0"/>
<line x1="1175.96" y1="454.0" x2="1175.96" y2="461.2" stroke="#000" stroke-width="2.0"/>
<text transform="translate(1175.96,487.90) scale(1.0,1.035)" font-size="28" fill="#000" text-anchor="middle">300</text>
<line x1="1221.22" y1="454.0" x2="1221.22" y2="457.6" stroke="#000" stroke-width="2.0"/>
<line x1="1266.48" y1="454.0" x2="1266.48" y2="461.2" stroke="#000" stroke-width="2.0"/>
<text transform="translate(1266.48,487.90) scale(1.0,1.035)" font-size="28" fill="#000" text-anchor="middle">400</text>
<line x1="1311.74" y1="454.0" x2="1311.74" y2="457.6" stroke="#000" stroke-width="2.0"/>
<line x1="1357.00" y1="454.0" x2="1357.00" y2="461.2" stroke="#000" stroke-width="2.0"/>
<text transform="translate(1357.00,487.90) scale(1.0,1.035)" font-size="28" fill="#000" text-anchor="middle">500</text>
<text transform="translate(1034.00,540.60) scale(1.0,1.055)" font-size="31.5" fill="#000" font-weight="bold"><tspan font-style="italic">H</tspan> / MJ m<tspan font-size="22" dy="-12.0">-2</tspan></text>
<text transform="translate(760.40,319.20) rotate(-90) scale(1.0,1.055)" font-size="32" fill="#000" font-weight="bold"><tspan font-style="italic" font-weight="normal">ρ</tspan><tspan font-weight="normal"> / </tspan>g cm<tspan font-size="22" dy="-12.0">-3</tspan></text>
<text transform="translate(724.50,22.60) scale(1.0,1.06)" font-size="32" fill="#231f20" font-weight="bold">b</text>
<circle cx="1382.2" cy="406.4" r="10.45" fill="#000"/>
<path d="M1382.20,426.30 L1394.00,447.00 L1370.40,447.00 Z" fill="#000" stroke="#000" stroke-width="1.2" stroke-linejoin="round"/>
<text transform="translate(1411.60,415.30) scale(1.0,1.07)" font-size="26.0" fill="#000" font-weight="bold">PE-HD 1</text>
<text transform="translate(1411.60,448.80) scale(1.0,1.07)" font-size="26.0" fill="#000" font-weight="bold">PE-HD 2</text>
</svg>
</body></html>
